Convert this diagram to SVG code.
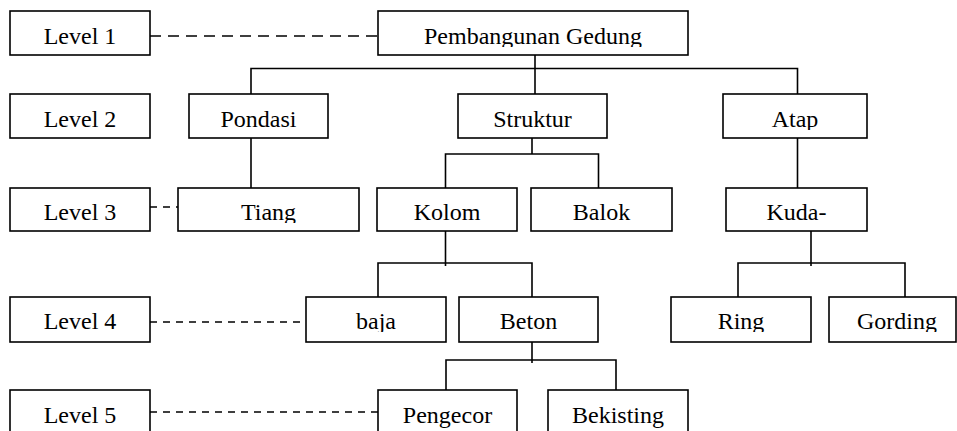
<svg xmlns="http://www.w3.org/2000/svg" width="957" height="431" viewBox="0 0 957 431">
<style>
rect{fill:#fff;stroke:#000;stroke-width:1.6}
text{font-family:"Liberation Serif","Times New Roman",serif;font-size:24px;fill:#000;text-anchor:middle}
.c line,.c polyline{stroke:#000;stroke-width:1.6;fill:none}
.d1{stroke:#000;stroke-width:2;stroke-dasharray:11 7}
.d2{stroke:#000;stroke-width:1.6;stroke-dasharray:7 6}
</style>
<defs>
<clipPath id="r1" clipPathUnits="userSpaceOnUse"><rect x="0" y="0" width="957" height="47" style="stroke:none"/></clipPath>
<clipPath id="r2" clipPathUnits="userSpaceOnUse"><rect x="0" y="0" width="957" height="130" style="stroke:none"/></clipPath>
<clipPath id="r3" clipPathUnits="userSpaceOnUse"><rect x="0" y="0" width="957" height="223" style="stroke:none"/></clipPath>
<clipPath id="r4" clipPathUnits="userSpaceOnUse"><rect x="0" y="0" width="957" height="332" style="stroke:none"/></clipPath>
</defs>
<g class="c" id="connectors">
<line class="d1" x1="150" y1="36" x2="378" y2="36"/>
<line class="d2" x1="150" y1="207" x2="178" y2="207"/>
<line class="d2" x1="150" y1="322" x2="306" y2="322"/>
<line class="d2" x1="150" y1="412" x2="378" y2="412"/>
<line x1="535" y1="53" x2="535" y2="94"/>
<polyline points="251,94 251,68.5 797.5,68.5 797.5,94"/>
<line x1="251" y1="138" x2="251" y2="188"/>
<line x1="532" y1="138" x2="532" y2="154"/>
<polyline points="445.5,188 445.5,154 598.5,154 598.5,188"/>
<line x1="797.5" y1="138" x2="797.5" y2="188"/>
<line x1="445.5" y1="227" x2="445.5" y2="266"/>
<polyline points="378,301 378,263 532,263 532,297"/>
<line x1="811" y1="228" x2="811" y2="266"/>
<polyline points="738,297 738,263 905,263 905,297"/>
<line x1="532" y1="338" x2="532" y2="363"/>
<polyline points="446,390 446,360 616,360 616,390"/>
</g>
<g id="level1"><rect x="10" y="11" width="140" height="44"/><text x="80" y="44">Level 1</text></g>
<g id="level2"><rect x="10" y="94" width="140" height="44"/><text x="80" y="127">Level 2</text></g>
<g id="level3"><rect x="10" y="188" width="140" height="43"/><text x="80" y="220">Level 3</text></g>
<g id="level4"><rect x="10" y="297" width="140" height="45"/><text x="80" y="329">Level 4</text></g>
<g id="level5"><rect x="10" y="390" width="140" height="50"/><text x="80" y="423">Level 5</text></g>
<g id="pembangunan"><rect x="378" y="11" width="310" height="44"/><text x="533" y="44" clip-path="url(#r1)">Pembangunan Gedung</text></g>
<g id="pondasi"><rect x="189" y="94" width="139" height="44"/><text x="258.5" y="127" clip-path="url(#r2)">Pondasi</text></g>
<g id="struktur"><rect x="458" y="94" width="149" height="44"/><text x="532.5" y="127" clip-path="url(#r2)">Struktur</text></g>
<g id="atap"><rect x="723" y="94" width="144" height="44"/><text x="795" y="127" clip-path="url(#r2)">Atap</text></g>
<g id="tiang"><rect x="178" y="188" width="181" height="43"/><text x="268.5" y="220" clip-path="url(#r3)">Tiang</text></g>
<g id="kolom"><rect x="377" y="188" width="140" height="43"/><text x="447" y="220" clip-path="url(#r3)">Kolom</text></g>
<g id="balok"><rect x="531" y="188" width="141" height="43"/><text x="601.5" y="220" clip-path="url(#r3)">Balok</text></g>
<g id="kuda"><rect x="726" y="188" width="141" height="43"/><text x="796.5" y="220" clip-path="url(#r3)">Kuda-</text></g>
<g id="baja"><rect x="306" y="297" width="140" height="45"/><text x="376" y="329" clip-path="url(#r4)">baja</text></g>
<g id="beton"><rect x="459" y="297" width="139" height="45"/><text x="528.5" y="329" clip-path="url(#r4)">Beton</text></g>
<g id="ring"><rect x="671" y="297" width="140" height="45"/><text x="741" y="329" clip-path="url(#r4)">Ring</text></g>
<g id="gording"><rect x="829" y="297" width="127" height="45"/><text x="897" y="329" clip-path="url(#r4)">Gording</text></g>
<g id="pengecor"><rect x="378" y="390" width="139" height="50"/><text x="447.5" y="423">Pengecor</text></g>
<g id="bekisting"><rect x="548" y="390" width="140" height="50"/><text x="618" y="423">Bekisting</text></g>
</svg>
